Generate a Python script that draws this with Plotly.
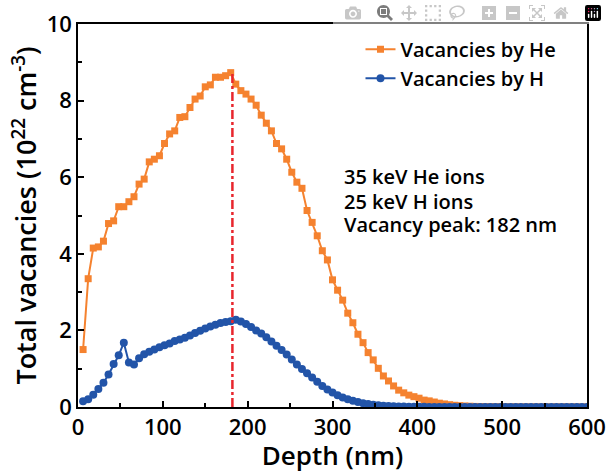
import plotly.graph_objects as go

# Depth grid (nm)
depth_nm = [6 * i for i in range(1, 101)]

# Vacancies produced by 35 keV He ions (10^22 cm^-3)
vac_he = [
    1.5, 3.35, 4.15, 4.18, 4.33, 4.79, 4.86, 5.23, 5.23, 5.36,
    5.49, 5.82, 5.95, 6.4, 6.47, 6.56, 6.88, 7.13, 7.21, 7.56,
    7.58, 7.82, 8.04, 8.12, 8.36, 8.41, 8.61, 8.61, 8.65, 8.73,
    8.43, 8.26, 8.17, 8.04, 7.88, 7.62, 7.41, 7.21, 6.88, 6.74,
    6.47, 6.13, 5.87, 5.71, 5.13, 4.82, 4.47, 4.08, 3.84, 3.32,
    3.05, 2.79, 2.45, 2.2, 1.9, 1.68, 1.42, 1.23, 1.01, 0.81,
    0.68, 0.55, 0.44, 0.37, 0.31, 0.27, 0.23, 0.18, 0.16, 0.13,
    0.1, 0.08, 0.06, 0.045, 0.035, 0.026, 0.02, 0.015, 0.011, 0.008,
    0.006, 0.005, 0.004, 0.003, 0.0025, 0.002, 0.0015, 0.0012, 0.001, 0.0008,
    0.0006, 0.0005, 0.0004, 0.0003, 0.0002, 0.0002, 0.0001, 0.0001, 0.0001, 0.0,
]

# Vacancies produced by 25 keV H ions (10^22 cm^-3)
vac_h = [
    0.15, 0.2, 0.32, 0.47, 0.63, 0.85, 1.12, 1.35, 1.68, 1.16,
    1.11, 1.27, 1.38, 1.44, 1.5, 1.56, 1.61, 1.66, 1.72, 1.76,
    1.81, 1.87, 1.93, 1.99, 2.05, 2.1, 2.15, 2.19, 2.22, 2.24,
    2.28, 2.23, 2.17, 2.09, 2.0, 1.92, 1.82, 1.71, 1.6, 1.49,
    1.37, 1.24, 1.11, 0.99, 0.88, 0.77, 0.66, 0.55, 0.46, 0.38,
    0.31, 0.25, 0.2, 0.16, 0.13, 0.1, 0.08, 0.06, 0.045, 0.035,
    0.027, 0.02, 0.015, 0.012, 0.009, 0.007, 0.005, 0.004, 0.003, 0.0025,
    0.002, 0.0015, 0.0012, 0.001, 0.0008, 0.0006, 0.0005, 0.0004, 0.0003, 0.0003,
    0.0002, 0.0002, 0.0001, 0.0001, 0.0001, 0.0001, 0.0001, 0.0, 0.0, 0.0,
    0.0, 0.0, 0.0, 0.0, 0.0, 0.0, 0.0, 0.0, 0.0, 0.0,
]

peak_depth = 182
peak_value = 8.73
x_ticks = [0, 100, 200, 300, 400, 500, 600]
y_ticks = [0, 2, 4, 6, 8, 10]
info_lines = ["35 keV He ions", "25 keV H ions", "Vacancy peak: 182 nm"]

ORANGE = "#F5822F"
BLUE = "#2254A8"
RED = "#E8262D"
FONT = "Open Sans"
W = 600

fig = go.Figure()
fig.add_trace(go.Scatter(
    x=depth_nm, y=vac_he, mode="lines+markers", name="Vacancies by He",
    line=dict(color=ORANGE, width=2),
    marker=dict(symbol="square", size=7, color=ORANGE),
))
fig.add_trace(go.Scatter(
    x=depth_nm, y=vac_h, mode="lines+markers", name="Vacancies by H",
    line=dict(color=BLUE, width=2),
    marker=dict(symbol="circle", size=8, color=BLUE),
))
fig.add_trace(go.Scatter(
    x=[peak_depth, peak_depth], y=[0, peak_value], mode="lines",
    line=dict(color=RED, width=2.5, dash="dashdot"), showlegend=False,
))

# info text lines (y positions in paper fraction)
info_y = [0.601, 0.536, 0.476]
for line_text, yy in zip(info_lines, info_y):
    fig.add_annotation(
        xref="paper", yref="paper", x=0.518, y=yy, xanchor="left", yanchor="middle",
        text=line_text, align="left", showarrow=False,
        font=dict(family=FONT, size=20, color="black", weight=W),
    )

axis_common = dict(
    showline=True, linecolor="black", linewidth=1.5, mirror=True,
    ticks="inside", tickcolor="black", tickwidth=1.5, ticklen=6,
    showgrid=False, zeroline=False, automargin=False,
    tickfont=dict(family=FONT, size=22, color="black", weight=W),
)

fig.update_xaxes(
    range=[0, 600], tickvals=x_ticks,
    minor=dict(ticks="inside", dtick=50, ticklen=4, tickcolor="black", tickwidth=1.5),
    title=dict(text="Depth (nm)", font=dict(family=FONT, size=26, color="black", weight=W), standoff=0),
    **axis_common,
)
fig.update_yaxes(
    range=[0, 10], tickvals=y_ticks,
    minor=dict(ticks="inside", dtick=1, ticklen=4, tickcolor="black", tickwidth=1.5),
    title=dict(text="Total vacancies (10<sup>22</sup> cm<sup>-3</sup>)",
               font=dict(family=FONT, size=27, color="black", weight=W), standoff=2),
    **axis_common,
)

fig.update_layout(
    width=607, height=473,
    margin=dict(l=78, r=20, t=24, b=66, autoexpand=False),
    plot_bgcolor="white", paper_bgcolor="white",
    legend=dict(x=0.555, y=0.985, xanchor="left", yanchor="top",
                font=dict(family=FONT, size=20, color="black", weight=W),
                bgcolor="rgba(0,0,0,0)", tracegroupgap=0),
)

# Remove the default 8 px page margin so the figure sits at the window's corner.
fig.write_html(
    "out.html",
    post_script="document.body.style.margin='0';document.body.style.overflow='hidden';",
)
